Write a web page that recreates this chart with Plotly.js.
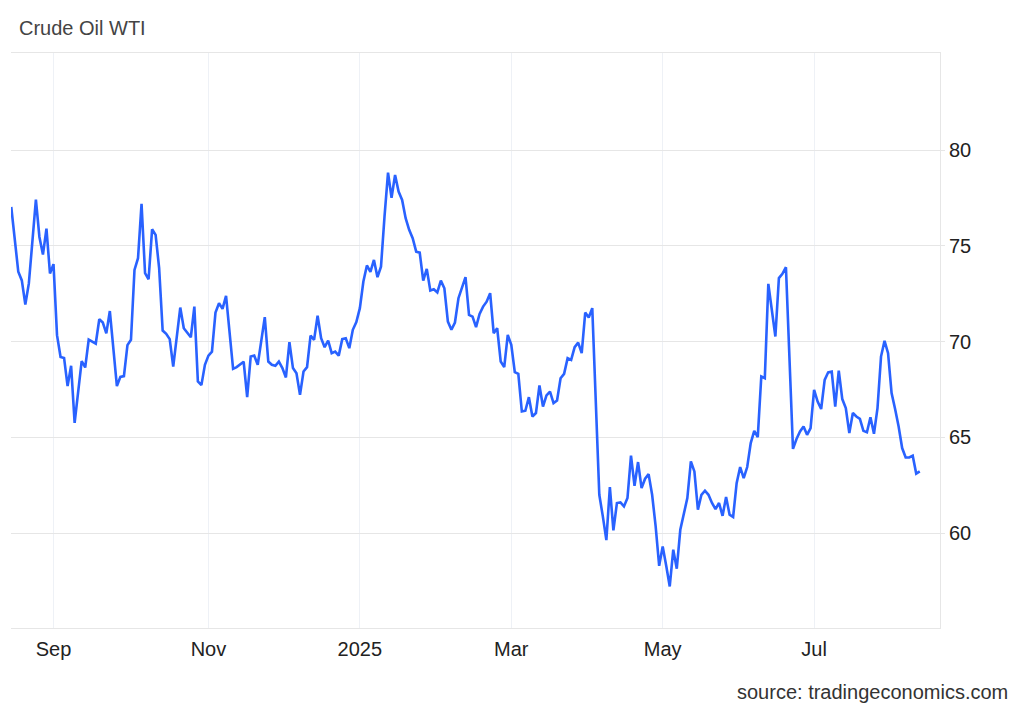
<!DOCTYPE html>
<html>
<head>
<meta charset="utf-8">
<script src="https://cdn.plot.ly/plotly-3.0.1.min.js"></script>
<style>
html,body{margin:0;padding:0;background:#ffffff;}
#chart{width:1024px;height:710px;}
</style>
</head>
<body>
<div id="chart"></div>
<script>
// Crude Oil WTI, daily (weekday) values
const dates = [
'2024-08-15','2024-08-19','2024-08-20','2024-08-21','2024-08-22','2024-08-26','2024-08-27','2024-08-28','2024-08-29','2024-08-30',
'2024-09-02','2024-09-03','2024-09-04','2024-09-05','2024-09-06','2024-09-09','2024-09-10','2024-09-12','2024-09-13','2024-09-16',
'2024-09-18','2024-09-19','2024-09-20','2024-09-23','2024-09-24','2024-09-26','2024-09-27','2024-09-30','2024-10-01','2024-10-02',
'2024-10-03','2024-10-04','2024-10-07','2024-10-08','2024-10-09','2024-10-10','2024-10-11','2024-10-14','2024-10-15','2024-10-16',
'2024-10-17','2024-10-18','2024-10-22','2024-10-23','2024-10-25','2024-10-28','2024-10-29','2024-10-30','2024-10-31','2024-11-01',
'2024-11-04','2024-11-05','2024-11-06','2024-11-07','2024-11-08','2024-11-12','2024-11-13','2024-11-15','2024-11-18','2024-11-19',
'2024-11-20','2024-11-21','2024-11-25','2024-11-26','2024-11-27','2024-11-28','2024-11-29','2024-12-02','2024-12-03','2024-12-04',
'2024-12-05','2024-12-06','2024-12-09','2024-12-10','2024-12-11','2024-12-12','2024-12-13','2024-12-16','2024-12-17','2024-12-18',
'2024-12-19','2024-12-20','2024-12-23','2024-12-24','2024-12-25','2024-12-26','2024-12-27','2024-12-30','2024-12-31','2025-01-01',
'2025-01-02','2025-01-03','2025-01-06','2025-01-07','2025-01-08','2025-01-09','2025-01-10','2025-01-13','2025-01-14','2025-01-15',
'2025-01-16','2025-01-17','2025-01-20','2025-01-21','2025-01-22','2025-01-23','2025-01-24','2025-01-27','2025-01-28','2025-01-29',
'2025-01-30','2025-01-31','2025-02-03','2025-02-04','2025-02-05','2025-02-06','2025-02-07','2025-02-10','2025-02-12','2025-02-13',
'2025-02-14','2025-02-17','2025-02-18','2025-02-19','2025-02-20','2025-02-21','2025-02-24','2025-02-25','2025-02-26','2025-02-27',
'2025-02-28','2025-03-03','2025-03-04','2025-03-05','2025-03-06','2025-03-07','2025-03-10','2025-03-11','2025-03-12','2025-03-13',
'2025-03-14','2025-03-17','2025-03-18','2025-03-19','2025-03-20','2025-03-21','2025-03-24','2025-03-25','2025-03-26','2025-03-27',
'2025-03-28','2025-03-31','2025-04-01','2025-04-02','2025-04-03','2025-04-07','2025-04-08','2025-04-09','2025-04-10','2025-04-11',
'2025-04-14','2025-04-15','2025-04-16','2025-04-17','2025-04-18','2025-04-21','2025-04-22','2025-04-23','2025-04-24','2025-04-25',
'2025-04-28','2025-04-29','2025-04-30','2025-05-01','2025-05-02','2025-05-05','2025-05-06','2025-05-07','2025-05-08','2025-05-09',
'2025-05-12','2025-05-13','2025-05-14','2025-05-15','2025-05-16','2025-05-19','2025-05-20','2025-05-21','2025-05-22','2025-05-23',
'2025-05-26','2025-05-27','2025-05-28','2025-05-29','2025-05-30','2025-06-02','2025-06-03','2025-06-04','2025-06-05','2025-06-06',
'2025-06-09','2025-06-10','2025-06-11','2025-06-12','2025-06-16','2025-06-17','2025-06-18','2025-06-19','2025-06-20','2025-06-23',
'2025-06-24','2025-06-25','2025-06-26','2025-06-27','2025-06-30','2025-07-01','2025-07-02','2025-07-03','2025-07-04','2025-07-07',
'2025-07-08','2025-07-09','2025-07-10','2025-07-11','2025-07-14','2025-07-15','2025-07-16','2025-07-17','2025-07-18','2025-07-21',
'2025-07-22','2025-07-23','2025-07-24','2025-07-25','2025-07-28','2025-07-29','2025-07-30','2025-07-31','2025-08-01','2025-08-04',
'2025-08-05','2025-08-06','2025-08-07','2025-08-08','2025-08-11','2025-08-12'
];
const prices = [
77.04,73.65,73.20,71.94,73.04,77.42,75.47,74.55,75.90,73.56,
74.05,70.34,69.20,69.15,67.68,68.74,65.76,68.98,68.65,70.11,
69.90,71.17,71.00,70.43,71.60,67.68,68.16,68.20,69.82,70.10,
73.75,74.36,77.20,73.58,73.26,75.87,75.58,73.84,70.58,70.41,
70.13,68.70,71.78,70.70,70.23,71.83,67.92,67.73,68.79,69.27,
69.48,71.52,72.01,71.71,72.39,68.58,68.67,68.95,67.10,69.22,
69.27,68.79,71.28,68.96,68.79,68.74,68.96,68.62,68.13,69.97,
68.62,68.35,67.22,68.44,68.67,70.32,70.09,71.35,70.18,69.71,
70.06,69.40,69.48,69.27,70.13,70.18,69.66,70.62,71.02,71.75,
73.14,73.98,73.65,74.27,73.37,73.92,76.53,78.83,77.52,78.71,
77.84,77.40,76.45,75.84,75.40,74.70,74.65,73.19,73.80,72.67,
72.74,72.57,73.19,72.79,71.05,70.62,71.00,72.27,73.37,71.40,
71.31,70.76,71.45,71.83,72.09,72.53,70.44,70.70,68.96,68.67,
70.35,69.83,68.41,68.32,66.35,66.39,67.10,66.09,66.27,67.71,
66.61,67.19,67.39,66.79,66.93,68.09,68.32,69.14,69.05,69.71,
69.95,69.40,71.52,71.26,71.75,62.00,60.87,59.63,62.40,60.14,
61.57,61.60,61.39,61.83,64.05,62.47,63.71,62.35,62.84,63.08,
62.00,60.35,58.29,59.30,58.29,57.21,59.13,58.14,60.17,61.04,
61.83,63.74,63.22,61.22,62.00,62.21,62.00,61.57,61.25,61.57,
60.90,61.88,60.96,60.84,62.61,63.45,62.87,63.45,64.70,65.34,
65.01,68.18,68.09,73.02,70.27,73.32,73.54,73.89,68.62,64.40,
64.91,65.31,65.57,65.13,65.48,67.48,66.87,66.48,68.00,68.40,
68.44,66.61,68.49,67.00,66.53,65.22,66.27,66.09,65.97,65.34,
65.27,66.05,65.19,66.53,69.22,70.04,69.40,67.31,66.48,65.57,
64.44,63.95,63.95,64.04,63.10,63.22
];
const tickDates = ['2024-09-02','2024-11-01','2025-01-01','2025-03-03','2025-05-01','2025-07-01'];
const tickLabels = ['Sep','Nov','2025','Mar','May','Jul'];
const priceTicks = [60, 65, 70, 75, 80];

const FONT = '"Liberation Sans", Arial, Helvetica, sans-serif';

const trace = {
  x: dates,
  y: prices,
  type: 'scatter',
  mode: 'lines',
  line: {color: '#2962ff', width: 2.6},
  hoverinfo: 'x+y'
};

const layout = {
  width: 1024,
  height: 710,
  margin: {l: 11, r: 84, t: 53, b: 82, pad: 0},
  paper_bgcolor: '#ffffff',
  plot_bgcolor: '#ffffff',
  showlegend: false,
  font: {family: FONT, size: 20, color: '#222'},
  title: {
    text: 'Crude Oil WTI',
    font: {family: FONT, size: 20, color: '#444'},
    xref: 'container', yref: 'container',
    x: 19/1024, xanchor: 'left',
    y: 1 - 28/710, yanchor: 'middle'
  },
  xaxis: {
    type: 'date',
    range: ['2024-08-14 22:19', '2025-08-19 18:00'],
    rangebreaks: [{bounds: ['sat', 'mon']}],
    tickmode: 'array',
    tickvals: tickDates,
    ticktext: tickLabels,
    showgrid: true,
    gridcolor: '#eef1f6',
    gridwidth: 1,
    showline: true,
    linecolor: '#e6e6e6',
    linewidth: 1,
    mirror: true,
    ticks: 'outside',
    ticklen: 3,
    tickcolor: 'rgba(0,0,0,0)',
    tickfont: {family: FONT, size: 20, color: '#222'},
    zeroline: false,
    fixedrange: true
  },
  yaxis: {
    side: 'right',
    range: [55.04, 85.08],
    tickmode: 'array',
    tickvals: priceTicks,
    showgrid: true,
    gridcolor: '#e6e6e6',
    gridwidth: 1,
    showline: true,
    linecolor: '#e6e6e6',
    linewidth: 1,
    mirror: false,
    ticks: 'outside',
    ticklen: 4,
    tickcolor: '#e6e6e6',
    tickfont: {family: FONT, size: 20, color: '#222'},
    zeroline: false,
    fixedrange: true
  },
  annotations: [{
    text: 'source: tradingeconomics.com',
    xref: 'paper', yref: 'paper',
    x: (1010 - 11) / 929, xanchor: 'right',
    y: (628 - 692) / 575, yanchor: 'middle',
    showarrow: false,
    font: {family: FONT, size: 20, color: '#333'}
  }]
};

Plotly.newPlot('chart', [trace], layout, {displayModeBar: false, staticPlot: true});
</script>
</body>
</html>
